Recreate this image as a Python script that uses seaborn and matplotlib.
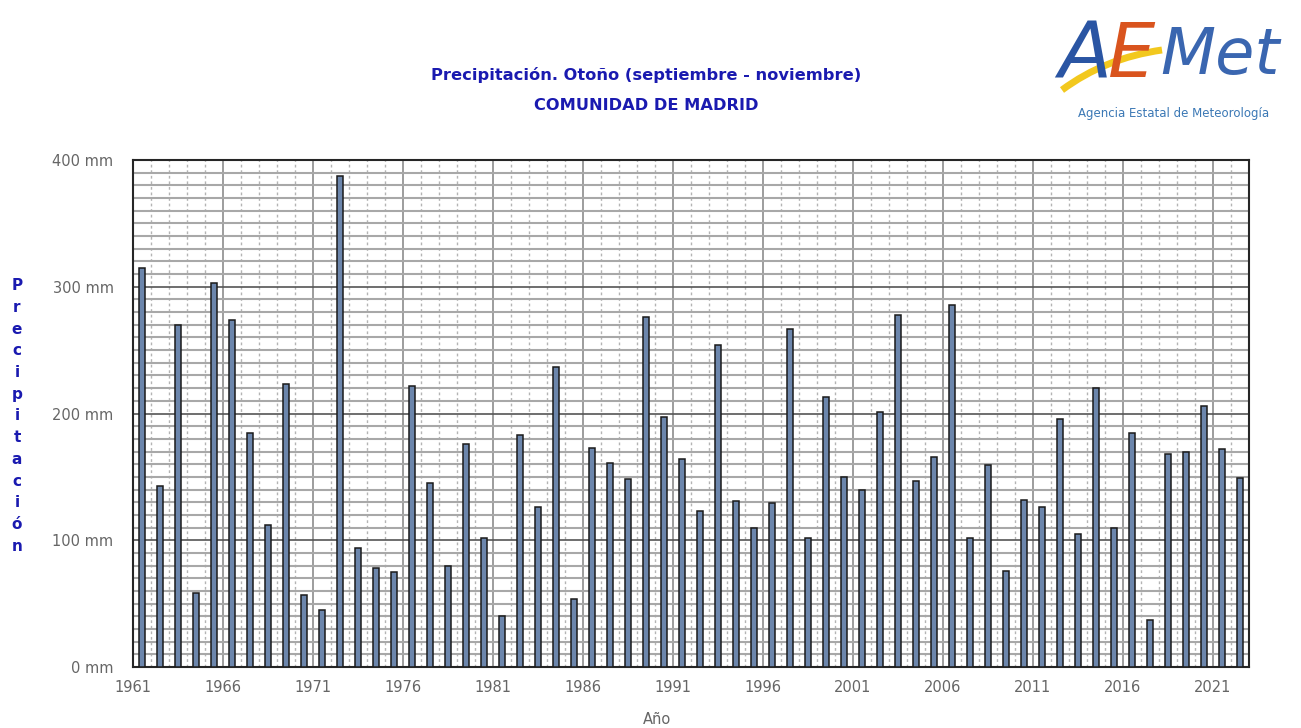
import numpy as np
import pandas as pd
import matplotlib.pyplot as plt
import seaborn as sns
from matplotlib.ticker import MultipleLocator, FuncFormatter
from matplotlib.path import Path
from matplotlib.patches import PathPatch

# Data: autumn precipitation, Comunidad de Madrid
years = list(range(1961, 2023))
precip = [315, 143, 270, 58, 303, 274, 185, 112, 223, 57,
          45, 387, 94, 78, 75, 222, 145, 80, 176, 102,
          40, 183, 126, 237, 54, 173, 161, 148, 276, 197,
          164, 123, 254, 131, 110, 129, 267, 102, 213, 150,
          140, 201, 278, 147, 166, 286, 102, 159, 76, 132,
          126, 196, 105, 220, 110, 185, 37, 168, 170, 206,
          172, 149]
label_years = years[::5]

df = pd.DataFrame({"Año": years, "Precipitación": precip})

sns.set_style("white")
fig = plt.figure(figsize=(13.01, 7.28), dpi=100)
ax = fig.add_axes([0.1022, 0.0838, 0.8578, 0.6964])

sns.barplot(data=df, x="Año", y="Precipitación", native_scale=True,
            width=0.38, color="#6c86ac", edgecolor="#1a1a1a", linewidth=1.1,
            saturation=1, ax=ax, zorder=3)

# axes / ticks
ax.set_xlim(years[0] - 0.5, years[-1] + 0.5)
ax.set_ylim(0, 400)
ax.set_xticks([y - 0.5 for y in label_years], labels=[str(y) for y in label_years])
ax.set_xticks([y - 0.5 for y in years], minor=True)
ax.yaxis.set_major_locator(MultipleLocator(100))
ax.yaxis.set_minor_locator(MultipleLocator(10))
ax.yaxis.set_major_formatter(FuncFormatter(lambda v, p: f"{int(v)} mm"))

ax.set_axisbelow(True)
ax.grid(which="minor", axis="y", color="#a8a8a8", lw=1.5)
ax.grid(which="major", axis="y", color="#555555", lw=1.2)
ax.grid(which="minor", axis="x", color="#b4b4b4", lw=1.0, ls=(0, (2, 2)))
ax.grid(which="major", axis="x", color="#8c8c8c", lw=1.2)

ax.tick_params(axis="both", which="major", labelsize=10.5, labelcolor="#666666",
               color="#8c8c8c", length=6, width=1)
ax.tick_params(axis="y", which="major", pad=8)
ax.tick_params(axis="x", which="minor", color="#b4b4b4", length=4, width=1)
ax.tick_params(axis="y", which="minor", length=0)

for s in ax.spines.values():
    s.set_color("#262626")
    s.set_linewidth(1.5)

ax.set_ylabel("")
ax.set_xlabel("Año", fontsize=10.5, color="#666666", va="top")
ax.xaxis.set_label_coords(0.47, -0.089)

# titles
blue = "#1a1ab0"
fig.text(0.497, 1 - 75 / 728, "Precipitación. Otoño (septiembre - noviembre)",
         ha="center", va="center", fontsize=11.7, fontweight="bold", color=blue)
fig.text(0.497, 1 - 105 / 728, "COMUNIDAD DE MADRID",
         ha="center", va="center", fontsize=11.7, fontweight="bold", color=blue)

# vertical stacked y-label
fig.text(17 / 1301, 1 - 416 / 728, "\n".join("Precipitación"),
         ha="center", va="center", fontsize=11, fontweight="bold", color=blue,
         linespacing=1.56)

# AEMET logo (approximation)
fig.text(1058 / 1301, 1 - 56 / 728, "A", ha="left", va="center", fontsize=56,
         style="italic", color="#2a55a3")
fig.text(1108 / 1301, 1 - 56 / 728, "E", ha="left", va="center", fontsize=54,
         style="italic", color="#d9541e")
fig.text(1160 / 1301, 1 - 56 / 728, "Met", ha="left", va="center", fontsize=46,
         style="italic", color="#3a66b0")
pts = [(1062, 90), (1105, 58), (1162, 50)]
verts = [(x / 1301, 1 - y / 728) for x, y in pts]
swoosh = PathPatch(Path(verts, [Path.MOVETO, Path.CURVE3, Path.CURVE3]),
                   transform=fig.transFigure, fill=False, edgecolor="#f2c81e", lw=5)
fig.add_artist(swoosh)
fig.text(1174 / 1301, 1 - 113 / 728, "Agencia Estatal de Meteorología",
         ha="center", va="center", fontsize=8.5, color="#3b78b5")

fig.savefig("out.png", dpi=100)
